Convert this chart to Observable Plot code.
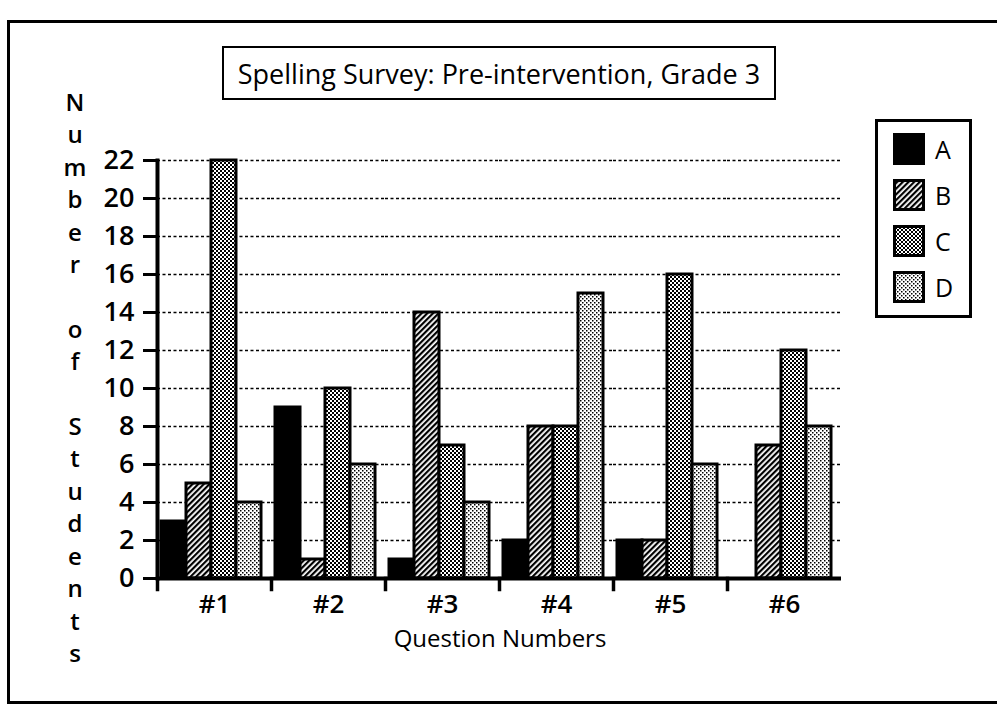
<!DOCTYPE html>
<html>
<head>
<meta charset="utf-8">
<script src="https://cdn.jsdelivr.net/npm/d3@7"></script>
<script src="https://cdn.jsdelivr.net/npm/@observablehq/plot@0.6"></script>
<style>
  html, body { margin: 0; padding: 0; background: #fff; }
  #wrap { position: relative; width: 997px; height: 713px; overflow: hidden; font-family: "Open Sans", Lato, sans-serif; color: #000; }
  #chart { position: absolute; left: 0; top: 0; }
  .outer { position: absolute; left: 7px; top: 20px; width: 1000px; height: 684px; border-left: 3px solid #000; border-top: 3px solid #000; border-bottom: 3px solid #000; box-sizing: border-box; }
  .title { position: absolute; left: 222px; top: 46px; width: 554px; height: 54px; border: 2.5px solid #000; box-sizing: border-box; font-size: 27px; display: flex; align-items: center; justify-content: center; background: #fff; }
  .ytitle { position: absolute; left: 60px; top: 86px; width: 30px; text-align: center; font-size: 24px; font-weight: 600; line-height: 32.4px; white-space: pre; }
  .xtitle { position: absolute; left: 300px; width: 400px; top: 621px; text-align: center; font-size: 24px; }
  .legend { position: absolute; left: 875px; top: 119px; width: 97px; height: 199px; border: 3px solid #000; box-sizing: border-box; background: #fff; }
  .legend .item { position: absolute; left: 15px; height: 32px; display: flex; align-items: center; font-size: 25px; }
  .legend svg { margin-right: 10px; }
</style>
</head>
<body>
<svg width="0" height="0" style="position:absolute">
  <defs>
    <pattern id="pB" width="4" height="4" patternUnits="userSpaceOnUse" patternTransform="rotate(45)">
      <rect width="4" height="4" fill="#fff"/>
      <rect width="2.2" height="4" fill="#000"/>
    </pattern>
    <pattern id="pC" width="4" height="4" patternUnits="userSpaceOnUse">
      <rect width="4" height="4" fill="#fff"/>
      <rect x="0" y="0" width="2" height="2" fill="#000"/>
      <rect x="2" y="2" width="2" height="2" fill="#000"/>
    </pattern>
    <pattern id="pD" width="4" height="4" patternUnits="userSpaceOnUse">
      <rect width="4" height="4" fill="#fff"/>
      <rect x="0" y="0" width="1.5" height="1.5" fill="#000"/>
      <rect x="2" y="2" width="1.5" height="1.5" fill="#000"/>
    </pattern>
  </defs>
</svg>
<div id="wrap">
  <div class="outer"></div>
  <div id="chart"></div>
  <div class="title">Spelling Survey: Pre-intervention, Grade 3</div>
  <div class="ytitle">N
u
m
b
e
r

o
f

S
t
u
d
e
n
t
s</div>
  <div class="xtitle">Question Numbers</div>
  <div class="legend" id="legend"></div>
</div>
<script>
const questions = ["#1", "#2", "#3", "#4", "#5", "#6"];
const series = ["A", "B", "C", "D"];
const valuesA = [3, 9, 1, 2, 2, 0];
const valuesB = [5, 1, 14, 8, 2, 7];
const valuesC = [22, 10, 7, 8, 16, 12];
const valuesD = [4, 6, 4, 15, 6, 8];
const yTicks = [0, 2, 4, 6, 8, 10, 12, 14, 16, 18, 20, 22];
const fills = ["#000", "url(#pB)", "url(#pC)", "url(#pD)"];

const valuesBySeries = {A: valuesA, B: valuesB, C: valuesC, D: valuesD};
const rows = [];
questions.forEach((q, i) => {
  series.forEach(s => rows.push({q, s, v: valuesBySeries[s][i]}));
});

const H = 713, mTop = 160, mBottom = 135;
const plot = Plot.plot({
  width: 997,
  height: H,
  marginLeft: 155,
  marginRight: 155,
  marginTop: mTop,
  marginBottom: mBottom,
  style: {fontFamily: "'Open Sans', Lato, sans-serif", fontSize: "24px", color: "#000", background: "transparent", overflow: "visible"},
  fx: {domain: questions, padding: 0, label: null},
  x: {domain: series, paddingInner: 0.02, paddingOuter: 0.25, align: 0.3, axis: null},
  y: {domain: [0, 22], label: null},
  color: {domain: series, range: fills},
  marks: [
    Plot.ruleY(yTicks.filter(t => t > 0), {stroke: "#000", strokeWidth: 1.5, strokeDasharray: "3,2.5"}),
    Plot.barY(rows, {fx: "q", x: "s", y: "v", fill: "s", stroke: "#000", strokeWidth: 3}),
    Plot.ruleY([0], {stroke: "#000", strokeWidth: 4}),
    Plot.frame({anchor: "left", insetTop: H - mTop - mBottom, insetBottom: -11, stroke: "#000", strokeWidth: 3.5}),
    Plot.frame({anchor: "left", facetAnchor: "left", stroke: "#000", strokeWidth: 4}),
    Plot.axisY({ticks: yTicks, tickSize: 14, tickPadding: 9, strokeWidth: 3, fontSize: 27, fontWeight: 600, label: null, facetAnchor: "left"}),
    Plot.axisFx({anchor: "bottom", tickSize: 0, tickPadding: 16, fontSize: 26, fontWeight: 600, label: null})
  ]
});
document.getElementById("chart").appendChild(plot);

const legend = document.getElementById("legend");
series.forEach((s, i) => {
  const item = document.createElement("div");
  item.className = "item";
  item.style.top = (11 + i * 46) + "px";
  item.innerHTML = `<svg width="32" height="32"><rect x="1.5" y="1.5" width="29" height="29" fill="${fills[i]}" stroke="#000" stroke-width="3"/></svg><span>${s}</span>`;
  legend.appendChild(item);
});
</script>
</body>
</html>
